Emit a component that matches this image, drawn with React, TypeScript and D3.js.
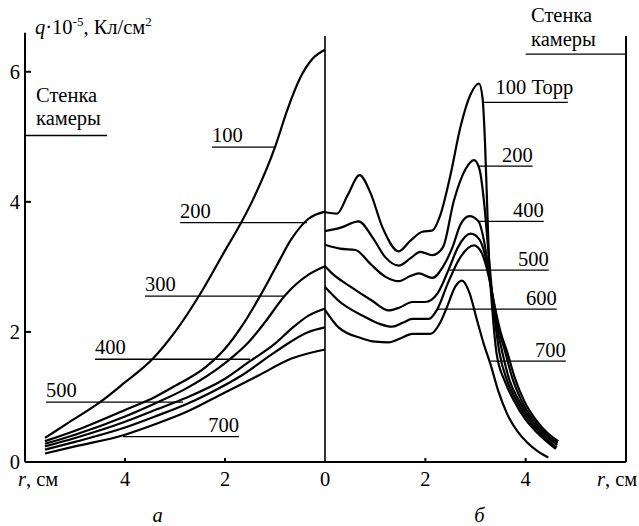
import React from 'react'
import * as d3 from 'd3'

const W = 639
const H = 526
const FONT = 'Liberation Serif, Times New Roman, Times, DejaVu Serif, serif'
const FS = 20.5

// Left panel (а): [r, q]  r in cm, q·10^-5 Кл/см²
const LEFT_100 = [[5.6, 0.37], [5.16, 0.59], [4.5, 0.92], [4.04, 1.2], [3.44, 1.59], [3.0, 2.0], [2.5, 2.58], [2.0, 3.25], [1.67, 3.69], [1.4, 4.1], [1.0, 4.84], [0.76, 5.4], [0.5, 5.9], [0.25, 6.2], [0, 6.34]]
const LEFT_200 = [[5.6, 0.32], [5.0, 0.48], [4.0, 0.8], [3.4, 1.0], [3.0, 1.17], [2.4, 1.45], [2.0, 1.74], [1.67, 2.08], [1.3, 2.55], [1.0, 2.97], [0.67, 3.43], [0.33, 3.74], [0, 3.85]]
const LEFT_300 = [[5.6, 0.28], [5.0, 0.42], [4.0, 0.7], [3.4, 0.9], [2.8, 1.12], [2.0, 1.52], [1.53, 1.84], [1.2, 2.15], [0.8, 2.56], [0.33, 2.88], [0, 3.01]]
const LEFT_400 = [[5.6, 0.24], [5.0, 0.37], [4.0, 0.62], [3.4, 0.8], [2.8, 0.98], [2.0, 1.28], [1.5, 1.55], [1.0, 1.82], [0.67, 2.05], [0.33, 2.25], [0, 2.36]]
const LEFT_500 = [[5.6, 0.19], [5.0, 0.31], [4.0, 0.53], [3.4, 0.7], [2.8, 0.88], [2.33, 1.05], [1.67, 1.33], [1.0, 1.69], [0.33, 2.0], [0, 2.07]]
const LEFT_700 = [[5.6, 0.13], [5.0, 0.24], [4.0, 0.42], [3.4, 0.58], [2.8, 0.76], [2.0, 1.07], [1.33, 1.33], [0.67, 1.59], [0, 1.73]]
const LEFT_SERIES = [LEFT_100, LEFT_200, LEFT_300, LEFT_400, LEFT_500, LEFT_700]

// Right panel (б)
const RIGHT_100 = [[0, 3.84], [0.24, 3.82], [0.45, 4.1], [0.69, 4.41], [0.9, 4.15], [1.15, 3.6], [1.47, 3.24], [1.7, 3.4], [1.94, 3.54], [2.14, 3.56], [2.3, 3.8], [2.5, 4.41], [2.7, 5.15], [2.9, 5.65], [3.07, 5.82], [3.14, 5.6], [3.19, 4.9], [3.23, 4.0], [3.27, 3.1], [3.33, 2.4], [3.42, 1.67], [3.58, 1.25], [3.77, 0.94], [4.0, 0.65], [4.23, 0.45], [4.6, 0.2]]
const RIGHT_200 = [[0, 3.55], [0.3, 3.6], [0.67, 3.7], [0.95, 3.45], [1.2, 3.15], [1.47, 3.02], [1.7, 3.13], [1.9, 3.23], [2.14, 3.18], [2.35, 3.3], [2.57, 4.02], [2.8, 4.5], [2.97, 4.64], [3.08, 4.5], [3.17, 4.0], [3.25, 3.3], [3.33, 2.6], [3.4, 2.1], [3.48, 1.67], [3.63, 1.25], [3.82, 0.94], [4.05, 0.65], [4.28, 0.45], [4.62, 0.22]]
const RIGHT_400 = [[0, 3.34], [0.3, 3.28], [0.61, 3.26], [0.9, 3.05], [1.2, 2.85], [1.47, 2.78], [1.7, 2.86], [1.87, 2.9], [2.14, 2.83], [2.35, 3.0], [2.54, 3.3], [2.7, 3.65], [2.88, 3.78], [3.06, 3.7], [3.17, 3.4], [3.28, 2.85], [3.4, 2.2], [3.54, 1.67], [3.68, 1.25], [3.87, 0.94], [4.1, 0.65], [4.33, 0.45], [4.63, 0.26]]
const RIGHT_500 = [[0, 3.01], [0.14, 2.9], [0.5, 2.7], [0.94, 2.48], [1.27, 2.33], [1.5, 2.38], [1.74, 2.46], [2.0, 2.46], [2.25, 2.6], [2.46, 2.95], [2.65, 3.3], [2.9, 3.51], [3.08, 3.42], [3.2, 3.15], [3.32, 2.65], [3.45, 2.1], [3.6, 1.67], [3.73, 1.3], [3.92, 0.94], [4.15, 0.65], [4.38, 0.45], [4.64, 0.29]]
const RIGHT_600 = [[0, 2.69], [0.27, 2.48], [0.8, 2.23], [1.1, 2.12], [1.34, 2.08], [1.55, 2.14], [1.74, 2.2], [2.07, 2.2], [2.24, 2.35], [2.45, 2.75], [2.7, 3.15], [2.97, 3.33], [3.12, 3.22], [3.25, 2.9], [3.38, 2.4], [3.5, 2.0], [3.64, 1.67], [3.78, 1.3], [3.97, 0.94], [4.2, 0.65], [4.43, 0.45], [4.65, 0.32]]
const RIGHT_700 = [[0, 2.34], [0.27, 2.07], [0.74, 1.9], [1.0, 1.85], [1.27, 1.84], [1.5, 1.9], [1.74, 1.97], [2.1, 1.97], [2.3, 2.15], [2.43, 2.38], [2.6, 2.7], [2.73, 2.79], [2.88, 2.6], [3.03, 2.18], [3.17, 1.8], [3.3, 1.5], [3.45, 1.1], [3.63, 0.74], [3.83, 0.48], [4.03, 0.3], [4.25, 0.16], [4.45, 0.07]]
const RIGHT_SERIES = [RIGHT_100, RIGHT_200, RIGHT_400, RIGHT_500, RIGHT_600, RIGHT_700]

// pressure labels with leader lines (v = level, r0..r1 = line extent)
const LEFT_LABELS = ['100', '200', '300', '400', '500', '700']
const LEFT_LABEL_V = [4.84, 3.68, 2.55, 1.58, 0.92, 0.39]
const LEFT_LABEL_R0 = [2.26, 2.9, 3.6, 4.6, 5.58, 4.04]
const LEFT_LABEL_R1 = [1.0, 0.36, 0.8, 1.5, 2.84, 1.72]

const RIGHT_LABELS = ['100 Торр', '200', '400', '500', '600', '700']
const RIGHT_LABEL_V = [5.53, 4.55, 3.7, 2.95, 2.35, 1.55]
const RIGHT_LABEL_R0 = [3.16, 3.06, 3.06, 2.46, 2.24, 3.3]
const RIGHT_LABEL_R1 = [4.84, 4.14, 4.36, 4.46, 4.62, 4.8]

const Y_TICKS = [0, 2, 4, 6]
const LEFT_R_TICKS = [4, 2, 0]
const RIGHT_R_TICKS = [2, 4]

export default function App() {
  const xL = d3.scaleLinear().domain([6, 0]).range([25, 325])
  const xR = d3.scaleLinear().domain([0, 6]).range([325, 626])
  const y = d3.scaleLinear().domain([0, 6.55]).range([462, 36])

  const lineL = d3.line<number[]>().x(d => xL(d[0])).y(d => y(d[1])).curve(d3.curveMonotoneX)
  const lineR = d3.line<number[]>().x(d => xR(d[0])).y(d => y(d[1])).curve(d3.curveMonotoneX)

  const txt = { fontSize: FS, fill: '#000', style: { fontFamily: FONT } }

  return (
    <svg width={W} height={H} style={{ position: 'absolute', left: 0, top: 0, background: '#fff' }}>
      {/* frame */}
      <line x1={xL(6)} x2={xL(6)} y1={y(6.6)} y2={y(0)} stroke="#000" strokeWidth={2} />
      <line x1={xL(0)} x2={xL(0)} y1={y(6.55)} y2={y(0)} stroke="#000" strokeWidth={1.6} />
      <line x1={xR(6)} x2={xR(6)} y1={y(6.55)} y2={y(0)} stroke="#000" strokeWidth={2} />
      <line x1={xL(6)} x2={xR(6)} y1={y(0)} y2={y(0)} stroke="#000" strokeWidth={2} />

      {/* y ticks */}
      {Y_TICKS.filter(t => t > 0).map(t => (
        <line key={'yt' + t} x1={xL(6)} x2={xL(6) + 6} y1={y(t)} y2={y(t)} stroke="#000" strokeWidth={2} />
      ))}
      {Y_TICKS.map(t => (
        <text key={'yl' + t} x={xL(6) - 5} y={y(t) + 7} textAnchor="end" {...txt}>{t}</text>
      ))}

      {/* x ticks */}
      {LEFT_R_TICKS.filter(t => t > 0).map(t => (
        <line key={'xlt' + t} x1={xL(t)} x2={xL(t)} y1={y(0)} y2={y(0) - 4} stroke="#000" strokeWidth={2} />
      ))}
      {RIGHT_R_TICKS.map(t => (
        <line key={'xrt' + t} x1={xR(t)} x2={xR(t)} y1={y(0)} y2={y(0) - 4} stroke="#000" strokeWidth={2} />
      ))}
      {LEFT_R_TICKS.map(t => (
        <text key={'xll' + t} x={xL(t)} y={486} textAnchor="middle" {...txt}>{t}</text>
      ))}
      {RIGHT_R_TICKS.map(t => (
        <text key={'xrl' + t} x={xR(t)} y={486} textAnchor="middle" {...txt}>{t}</text>
      ))}
      <text x={18} y={486} {...txt}><tspan fontStyle="italic">r</tspan>, см</text>
      <text x={597} y={486} {...txt}><tspan fontStyle="italic">r</tspan>, см</text>

      {/* panel letters */}
      <text x={xL(3.35)} y={522} textAnchor="middle" fontStyle="italic" {...txt}>а</text>
      <text x={xR(3.08)} y={522} textAnchor="middle" fontStyle="italic" {...txt}>б</text>

      {/* y title */}
      <text x={35} y={34} {...txt}>
        <tspan fontStyle="italic">q</tspan>·10<tspan dy={-8} fontSize={13}>-5</tspan>
        <tspan dy={8}>, Кл/см</tspan><tspan dy={-8} fontSize={13}>2</tspan>
      </text>

      {/* chamber walls */}
      <text x={36} y={102} {...txt}>Стенка</text>
      <text x={36} y={125} {...txt}>камеры</text>
      <line x1={xL(6)} x2={xL(4.36)} y1={y(5.02)} y2={y(5.02)} stroke="#000" strokeWidth={1.3} />
      <text x={531} y={22} {...txt}>Стенка</text>
      <text x={531} y={46} {...txt}>камеры</text>
      <line x1={xR(4.0)} x2={xR(6)} y1={y(6.27)} y2={y(6.27)} stroke="#000" strokeWidth={1.3} />

      {/* curves */}
      {LEFT_SERIES.map((s, i) => (
        <path key={'l' + i} d={lineL([...s].sort((a, b) => b[0] - a[0])) || ''} fill="none" stroke="#000" strokeWidth={2.2} />
      ))}
      {RIGHT_SERIES.map((s, i) => (
        <path key={'r' + i} d={lineR(s) || ''} fill="none" stroke="#000" strokeWidth={2.2} />
      ))}

      {/* leader lines + labels */}
      {LEFT_LABELS.map((lab, i) => {
        const yy = y(LEFT_LABEL_V[i])
        const last = lab === '700'
        return (
          <g key={'ll' + i}>
            <line x1={xL(LEFT_LABEL_R0[i])} x2={xL(LEFT_LABEL_R1[i])} y1={yy} y2={yy} stroke="#000" strokeWidth={1.3} />
            <text x={last ? xL(LEFT_LABEL_R1[i]) : xL(LEFT_LABEL_R0[i])} y={yy - 5} textAnchor={last ? 'end' : 'start'} {...txt}>{lab}</text>
          </g>
        )
      })}
      {RIGHT_LABELS.map((lab, i) => {
        const yy = y(RIGHT_LABEL_V[i])
        const first = i === 0
        return (
          <g key={'rl' + i}>
            <line x1={xR(RIGHT_LABEL_R0[i])} x2={xR(RIGHT_LABEL_R1[i])} y1={yy} y2={yy} stroke="#000" strokeWidth={1.3} />
            <text x={first ? xR(3.4) : xR(RIGHT_LABEL_R1[i])} y={yy - (first ? 8 : 4)} textAnchor={first ? 'start' : 'end'} {...txt}>{lab}</text>
          </g>
        )
      })}
    </svg>
  )
}
